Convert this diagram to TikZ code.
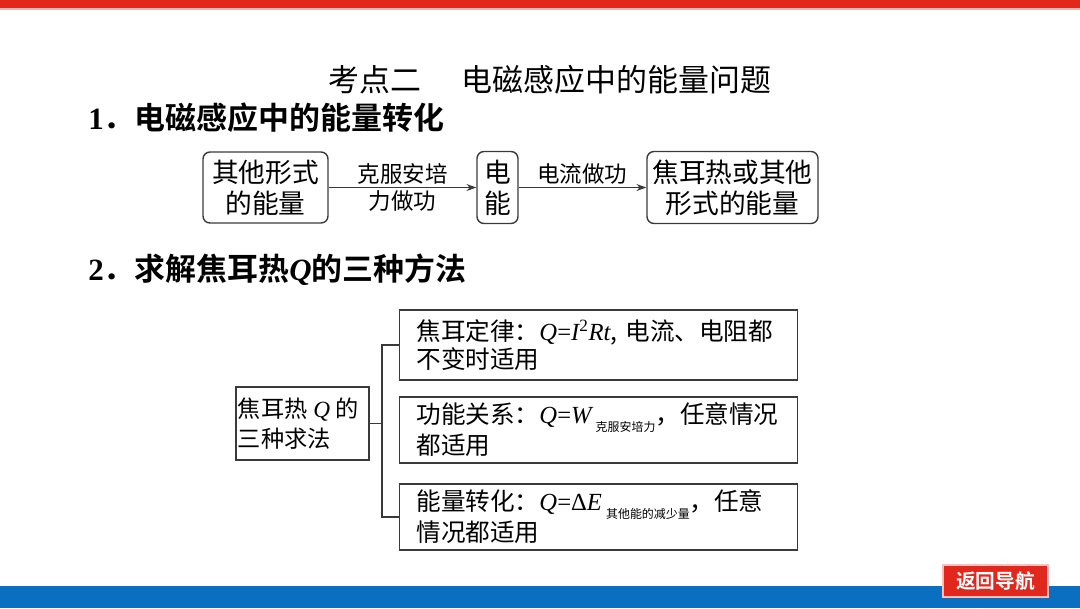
\documentclass[tikz,border=0pt]{standalone}
\usepackage{fontspec}
\setmainfont{Noto Sans CJK SC}[BoldFont={Noto Sans CJK SC Bold}]
\newfontfamily\tnr{Liberation Serif}
\usepackage{xcolor}
\usepackage{tikz}
\usetikzlibrary{arrows.meta, calc}

\definecolor{barred}{HTML}{E0281C}
\definecolor{barblue}{HTML}{0B6FC1}
\definecolor{boxline}{HTML}{3A3A3A}

\newcommand{\vq}[1]{{\tnr\itshape #1}}
\newcommand{\subcn}[1]{\raisebox{-0.6ex}{\fontsize{8.5}{9}\selectfont #1}}

\begin{document}
\begin{tikzpicture}[x=0.025cm, y=-0.025cm,
    flowbox/.style={draw=boxline, line width=1pt, rounded corners=5pt, inner sep=0pt,
        align=center, font=\fontsize{19}{22}\selectfont},
    flowlabel/.style={font=\fontsize{16}{18}\selectfont, inner sep=2pt, text=black},
    flowarrow/.style={line width=0.8pt, boxline, -{Stealth[length=7pt, width=5pt]}},
    waybox/.style={draw=boxline, line width=1pt, inner ysep=0pt, inner xsep=0.425cm,
        text width=9.1cm, minimum height=1.65cm, align=left,
        font=\fontsize{17.5}{19.5}\selectfont},
    treeline/.style={line width=1pt, boxline}]
\useasboundingbox (0,0) rectangle (1080,608);

% Bars
\fill[barred] (0,0) rectangle (1080,8);
\fill[barred!35] (0,8) rectangle (1080,10);
\fill[barblue] (0,586) rectangle (1080,608);

% Headings
\node[font=\fontsize{22}{24}\selectfont] (title) at (550,80) {考点二\hspace{1.3em}电磁感应中的能量问题};
\node[anchor=west, font=\fontsize{22}{24}\selectfont\bfseries, inner sep=0pt] (sec1) at (88,118) {{\tnr 1}．电磁感应中的能量转化};
\node[anchor=west, font=\fontsize{22}{24}\selectfont\bfseries, inner sep=0pt] (sec2) at (88,270) {{\tnr 2}．求解焦耳热\vq{Q}的三种方法};

% Energy chain
\node[flowbox, minimum width=3.125cm, minimum height=1.775cm] (other) at (265.5,187.5) {其他形式\\的能量};
\node[flowbox, minimum width=1.025cm, minimum height=1.8cm] (elec) at (497.5,187.5) {电\\能};
\node[flowbox, minimum width=4.275cm, minimum height=1.8cm] (heat) at (732.5,187.5) {焦耳热或其他\\形式的能量};
\draw[flowarrow] (other) -- (elec)
    node[flowlabel, midway, above] (ampere) {克服安培}
    node[flowlabel, midway, below] (ampere2) {力做功};
\draw[flowarrow] (elec) -- (heat)
    node[flowlabel, midway, above] (current) {电流做功};

% Three ways to find Q
\node[draw=boxline, line width=1pt, inner ysep=0pt, inner xsep=0.05cm, text width=3.225cm,
    minimum height=1.825cm, align=left, font=\fontsize{16.5}{21}\selectfont] (ways) at (302.5,423.5)
    {焦耳热\hspace{0.25em}\vq{Q}\hspace{0.25em}的\\三种求法};
\node[waybox, minimum height=1.75cm] (joule) at (598.5,345)
    {焦耳定律：\vq{Q}{\tnr =}\vq{I}\textsuperscript{\tnr 2}\vq{Rt}, 电流、电阻都\\不变时适用};
\node[waybox] (work) at (598.5,430)
    {功能关系：\vq{Q}{\tnr =}\vq{W}\,\subcn{克服安培力}，任意情况\\都适用};
\node[waybox] (conv) at (598.5,517)
    {能量转化：\vq{Q}{\tnr =}{\tnr Δ}\vq{E}\,\subcn{其他能的减少量}，任意\\情况都适用};
\coordinate (trunk) at (382,423.5);
\draw[treeline] (ways.east) -- (trunk);
\draw[treeline] (joule.west) -| (trunk) |- (conv.west);

% Back button
\node[fill=barred, draw=red!25, line width=1pt, text=white, inner sep=0pt,
    minimum width=2.625cm, minimum height=0.8cm, font=\fontsize{14}{16}\selectfont\bfseries] (back) at (995.5,581) {返回导航};
\end{tikzpicture}
\end{document}
